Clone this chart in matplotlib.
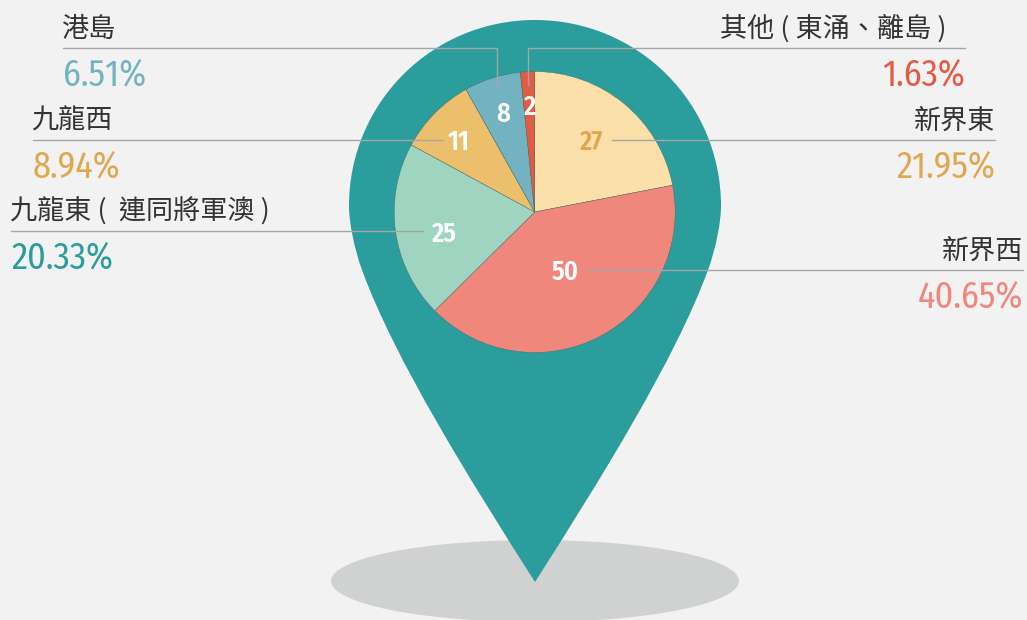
import matplotlib
matplotlib.use('Agg')
import matplotlib.pyplot as plt
from matplotlib.patches import Ellipse, PathPatch
from matplotlib.path import Path

plt.rcParams['font.family'] = ['Noto Sans CJK TC', 'DejaVu Sans']

# clockwise from the top of the pie
regions = ['新界東', '新界西', '九龍東 (  連同將軍澳 )', '九龍西', '港島', '其他 ( 東涌、離島 )   ']
counts = [27, 50, 25, 11, 8, 2]
shares = ['21.95%', '40.65%', '20.33%', '8.94%', '6.51%', '1.63%']

wedge_colors = ['#fadfa9', '#f0877c', '#9fd5c0', '#ecbf6c', '#73b3c1', '#e15c45']
share_colors = ['#dfa850', '#f0877c', '#2a9d9c', '#dfa850', '#73b3c1', '#e15c45']
count_colors = ['#dfa850', 'white', 'white', 'white', 'white', 'white']

# layout in pixels
count_pos = [(591.5, 142), (565.5, 272), (444.5, 234), (458.5, 142), (503, 114), (530, 107)]
line_y = [140, 270, 231, 140, 48, 48]
line_outer = [995, 1023, 11, 33, 63, 965]
line_inner = [612, 586, 423, 443, 497, 528]
line_drop = [None, None, None, None, 85, 85]
number_font = ['Fira Sans Condensed', 'DejaVu Sans']

fig = plt.figure(figsize=(10.27, 6.2), dpi=100, facecolor='#f2f2f2')
ax = fig.add_axes([0, 0, 1, 1])

ax.add_patch(Ellipse((535, 581), 408, 82, color='#d0d2d1', lw=0, zorder=1))

# map pin
verts = [(349, 206), (349, 103), (432, 20), (535, 20),
         (638, 20), (721, 103), (721, 206),
         (721, 222), (716, 248), (708, 270),
         (675, 360), (600, 480), (535, 582),
         (470, 480), (395, 360), (362, 270),
         (354, 248), (349, 222), (349, 206)]
codes = [Path.MOVETO] + [Path.CURVE4] * 18
ax.add_patch(PathPatch(Path(verts, codes), facecolor='#2a9d9c', lw=0, zorder=2))

wedges, _ = ax.pie(counts, colors=wedge_colors, center=(534.7, 212), radius=140.5,
                   startangle=-90, counterclock=True,
                   wedgeprops={'edgecolor': '#4d6660', 'linewidth': 0.3, 'zorder': 3})

ax.set_xlim(0, 1027)
ax.set_ylim(620, 0)
ax.set_aspect('auto')
ax.axis('off')

for i in range(len(regions)):
    xs = [line_outer[i], line_inner[i]]
    ys = [line_y[i], line_y[i]]
    if line_drop[i] is not None:
        xs.append(line_inner[i])
        ys.append(line_drop[i])
    ax.plot(xs, ys, color='#a6a6a6', lw=1, zorder=4, solid_joinstyle='miter')

    if line_outer[i] > 535:
        ha = 'right'
        text_x = line_outer[i]
    else:
        ha = 'left'
        text_x = line_outer[i] - 1.5
    ax.text(text_x, line_y[i] - 5, regions[i], ha=ha, va='bottom',
            fontsize=19.5, fontweight='light', color='#333333', zorder=5)
    ax.text(line_outer[i], line_y[i] + 9, shares[i], ha=ha, va='top',
            fontsize=26, color=share_colors[i], family=number_font, zorder=5)
    ax.text(count_pos[i][0], count_pos[i][1], str(counts[i]), ha='center', va='center',
            fontsize=19, fontweight='semibold', color=count_colors[i],
            family=number_font, zorder=5)

fig.savefig('out.png', dpi=100, facecolor=fig.get_facecolor())
